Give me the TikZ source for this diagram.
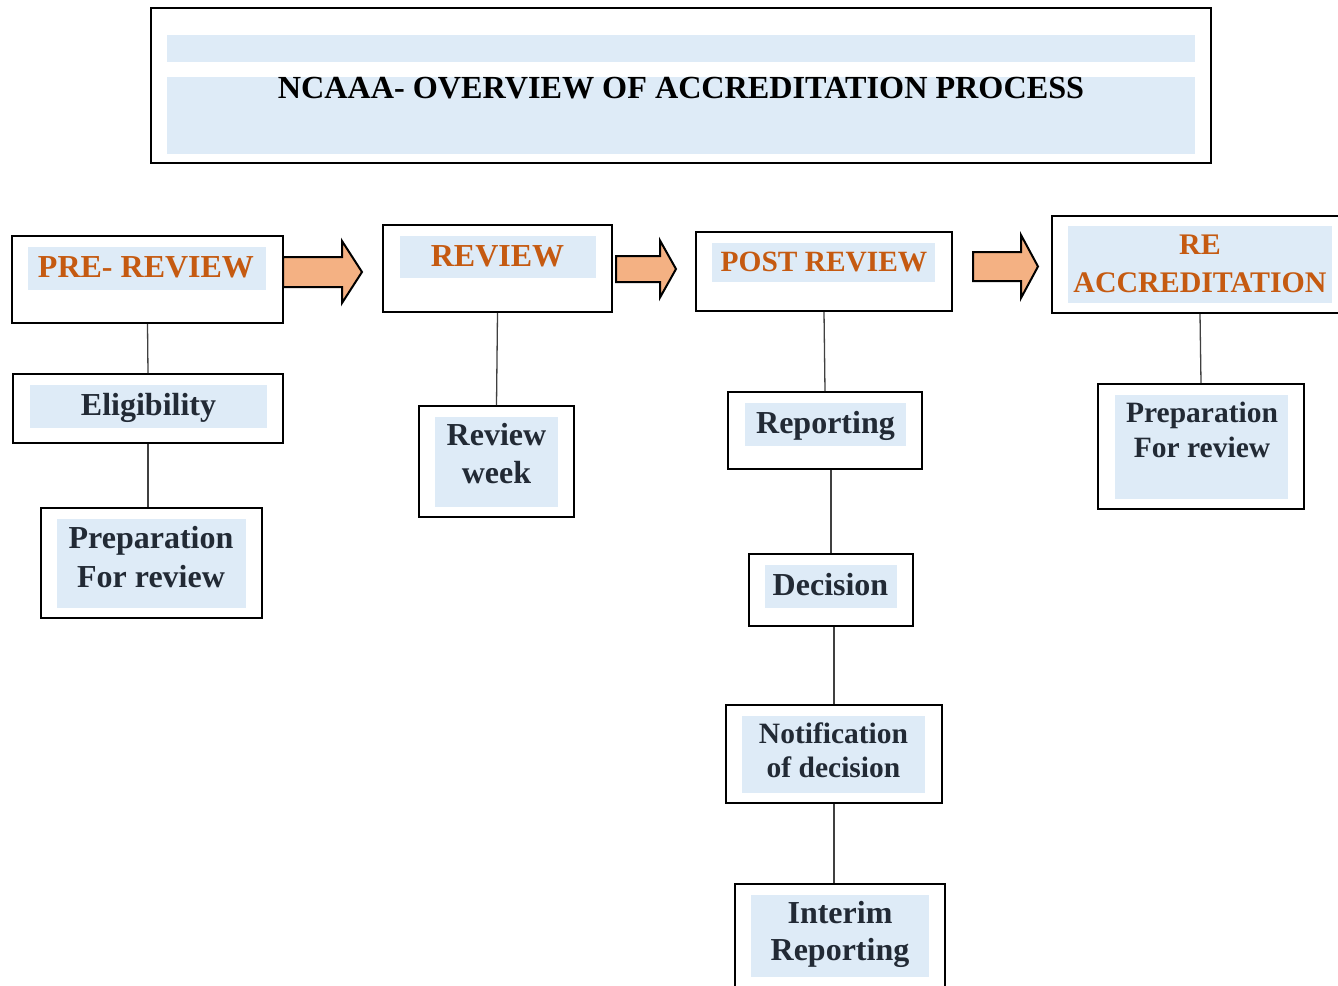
\documentclass[tikz,border=0pt]{standalone}
\usepackage{fontspec}
\setmainfont{Liberation Serif}
\definecolor{bandblue}{HTML}{DEEBF7}
\definecolor{headorange}{HTML}{C55A11}
\definecolor{darktext}{HTML}{222A35}
\definecolor{arrowfill}{HTML}{F4B183}
\tikzset{
  box/.style={draw, line width=2pt, inner sep=0pt},
  band/.style={fill=bandblue},
  head/.style={anchor=base, align=center, inner sep=0pt, text=headorange},
  step text/.style={anchor=base, align=center, inner sep=0pt, text=darktext},
  fsize/.style 2 args={font=\fontsize{#1}{#2}\selectfont\bfseries},
  bigarrow/.style={draw, fill=arrowfill, line width=2pt, line join=miter},
  link/.style={line width=1.3pt, black!75}
}
\begin{document}
\begin{tikzpicture}[x=1pt,y=-1pt]
\useasboundingbox (0,0) rectangle (1338,985);

% the light blue bands
\foreach \xa/\ya/\xb/\yb in {167/35/1195/62, 167/77/1195/154,
    28/247/266/290, 400/236/596/278, 712/243/935/282, 1068/226/1332/303,
    30/385/267/428, 57/519/246/608, 435/417/558/507,
    745/403/906/446, 765/565/897/608, 742/716/925/793, 751/895/929/977,
    1115/395/1288/499}
{
\fill[band] (\xa,\ya) rectangle (\xb,\yb);
}

% title
\node[box, minimum width=1060pt, minimum height=155pt] (title) at (681,85.5) {};
\node[head, text=black, fsize={32.2}{38}] (titletext) at (681,98) {NCAAA- OVERVIEW OF ACCREDITATION PROCESS};

% the four stages
\node[box, minimum width=271pt, minimum height=87pt] (pre) at (147.5,279.5) {};
\node[box, minimum width=229pt, minimum height=87pt] (rev) at (497.5,268.5) {};
\node[box, minimum width=256pt, minimum height=79pt] (post) at (824,271.5) {};
\node[box, minimum width=296pt, minimum height=97pt] (reacc) at (1200,264.5) {};

% (base of a two line node = base of its last line)
\node[head, fsize={32}{38}] (pretext) at (146,277) {PRE- REVIEW};
\node[head, fsize={32}{38}] (revtext) at (497.5,266) {REVIEW};
\node[head, fsize={29.4}{38}] (posttext) at (824,271) {POST REVIEW};
\node[head, fsize={29.9}{38}] (reacctext) at (1200,292) {RE\\ACCREDITATION};

% block arrows
\foreach \xs/\xh/\xt/\ym/\sw/\hw in {283/342/362/272/15/31, 616/660/676/269/13/28.5, 973/1021/1038/266.5/14.5/31.5}
{
\draw[bigarrow] (\xs,\ym-\sw) -- (\xh,\ym-\sw) -- (\xh,\ym-\hw) -- (\xt,\ym)
  -- (\xh,\ym+\hw) -- (\xh,\ym+\sw) -- (\xs,\ym+\sw) -- cycle;
}

% the steps
\node[box, minimum width=270pt, minimum height=69pt] (elig) at (148,408.5) {};
\node[box, minimum width=221pt, minimum height=110pt] (prepl) at (151.5,563) {};
\node[box, minimum width=155pt, minimum height=111pt] (week) at (496.5,461.5) {};
\node[box, minimum width=194pt, minimum height=77pt] (repo) at (825,430.5) {};
\node[box, minimum width=164pt, minimum height=72pt] (deci) at (831,590) {};
\node[box, minimum width=216pt, minimum height=98pt] (noti) at (834,754) {};
\node[box, minimum width=210pt, minimum height=126pt] (inter) at (840,947) {};
\node[box, minimum width=206pt, minimum height=125pt] (prepr) at (1201,446.5) {};

\node[step text, fsize={32}{38}] (eligtext) at (148.5,415) {Eligibility};
\node[step text, fsize={32}{39}] (prepltext) at (151,587) {Preparation\\For review};
\node[step text, fsize={32}{38}] (weektext) at (496.5,483) {Review\\week};
\node[step text, fsize={32}{38}] (repotext) at (825.5,433) {Reporting};
\node[step text, fsize={32}{38}] (decitext) at (830.5,595) {Decision};
\node[step text, fsize={29.5}{34}] (notitext) at (833.5,777) {Notification\\of decision};
\node[step text, fsize={32}{37}] (intertext) at (840,960) {Interim\\Reporting};
\node[step text, fsize={29.5}{35}] (seprtext) at (1202,457) {Preparation\\For review};

% connecting lines
\draw[link] (pre.south) -- (elig.north);
\draw[link] (elig.south) -- (elig.south |- prepl.north);
\draw[link] (rev.south) -- (week.north);
\draw[link] (post.south) -- (repo.north);
\draw[link] (deci.north |- repo.south) -- (deci.north);
\draw[link] (noti.north |- deci.south) -- (noti.north);
\draw[link] (noti.south) -- (noti.south |- inter.north);
\draw[link] (reacc.south) -- (prepr.north);
\end{tikzpicture}
\end{document}
